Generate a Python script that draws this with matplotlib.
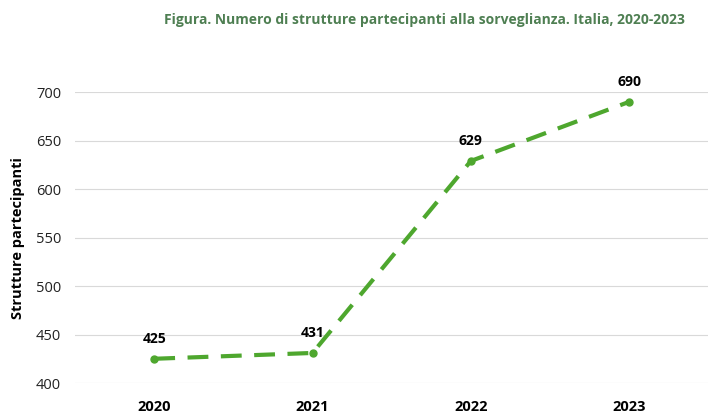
import matplotlib.pyplot as plt

plt.rcParams['font.family'] = ['Open Sans', 'DejaVu Sans']

anni = ['2020', '2021', '2022', '2023']
strutture = [425, 431, 629, 690]
yticks = [400, 450, 500, 550, 600, 650, 700]

verde = '#4ea72e'

fig = plt.figure(figsize=(7.22, 4.17), dpi=100)
ax = fig.add_axes([0.104, 0.0815, 0.877, 0.6975])

x = range(len(anni))
ax.plot(x, strutture, color=verde, linewidth=3, linestyle=(0, (5, 3)),
        marker='o', markersize=5, zorder=3)

for xi, v in zip(x, strutture):
    ax.annotate(str(v), (xi, v), xytext=(0, 9), textcoords='offset points',
                ha='center', va='bottom', fontsize=10, fontweight='bold')

ax.set_xlim(-0.5, len(anni) - 0.5)
ax.set_ylim(400, 700)
ax.set_yticks(yticks)
ax.set_xticks(list(x))
ax.set_xticklabels(anni, fontweight='bold', fontsize=10.5)
ax.tick_params(axis='y', labelsize=10.5, length=0, pad=10, colors='#222222')
ax.tick_params(axis='x', length=0, pad=12)
ax.grid(axis='y', color='#d9d9d9', linewidth=0.8)
ax.set_axisbelow(True)
for s in ax.spines.values():
    s.set_visible(False)

ax.set_ylabel('Strutture partecipanti', fontsize=10.5, fontweight='bold', labelpad=8)

fig.text(0.588, 0.952, 'Figura. Numero di strutture partecipanti alla sorveglianza. Italia, 2020-2023',
         ha='center', va='center', fontsize=10, fontweight='bold', color='#4e7f52')

fig.savefig('out.png', dpi=100)
